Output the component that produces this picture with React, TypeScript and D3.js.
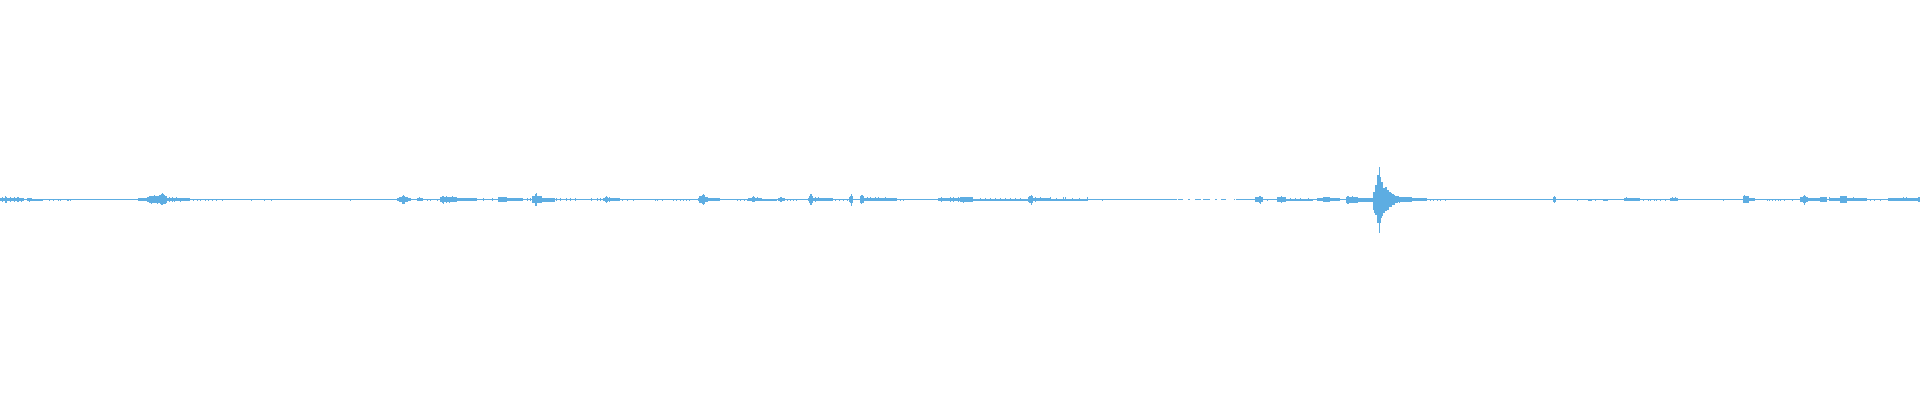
import React from "react";
import * as d3 from "d3";

const WIDTH = 1920;
const HEIGHT = 400;
const COLOR = "#5dade2";

// Columns (x in px of the 1920-wide waveform) where the signal is digital silence: nothing is drawn
const silentGaps: [number, number][] = [
  [1177, 1178], [1183, 1188], [1190, 1195], [1201, 1203], [1210, 1215],
  [1217, 1221], [1226, 1234], [1235, 1236],
];

// Low-level noise envelopes: [startX, endX (exclusive), up, down] in amplitude levels (full scale = 200)
const noiseSpans: [number, number, number, number][] = [
  [0, 24, 1, 1], [27, 32, 1, 1], [32, 43, 0, 1],
  [138, 147, 1, 1], [147, 149, 2, 2], [149, 167, 3, 3], [167, 190, 1, 1],
  [397, 399, 1, 1], [399, 402, 2, 2], [402, 405, 3, 4], [405, 408, 2, 2], [408, 411, 1, 1],
  [417, 423, 1, 1], [440, 457, 2, 2], [457, 477, 1, 1], [498, 507, 2, 2], [507, 523, 1, 1],
  [532, 535, 3, 3], [535, 537, 5, 6], [537, 542, 3, 3], [542, 555, 1, 2],
  [603, 620, 1, 1],
  [698, 699, 1, 1], [699, 702, 3, 3], [702, 705, 4, 4], [705, 708, 2, 2], [708, 720, 1, 1],
  [748, 762, 1, 1], [762, 777, 0, 1], [778, 785, 1, 1],
  [808, 809, 1, 1], [809, 813, 3, 3], [813, 833, 1, 1],
  [849, 853, 2, 2], [860, 864, 3, 3], [864, 897, 1, 1], [938, 960, 1, 1],
  [960, 973, 2, 2], [973, 1028, 0, 1], [1028, 1029, 2, 2], [1029, 1033, 3, 3], [1033, 1050, 1, 1], [1050, 1088, 0, 1],
  [1255, 1263, 2, 2], [1277, 1286, 2, 2], [1286, 1313, 0, 1],
  [1317, 1323, 1, 1], [1323, 1330, 2, 2], [1330, 1340, 1, 1],
  [1346, 1358, 2, 3], [1358, 1373, 1, 2],
  [1400, 1412, 2, 2], [1412, 1427, 1, 1],
  [1553, 1556, 2, 2], [1588, 1592, 0, 1],
  [1603, 1608, 0, 1], [1624, 1640, 1, 1], [1670, 1678, 1, 1],
  [1743, 1749, 3, 3], [1749, 1755, 1, 1],
  [1800, 1803, 2, 2], [1803, 1806, 3, 3], [1806, 1808, 2, 2], [1808, 1820, 1, 1],
  [1820, 1827, 2, 2], [1830, 1840, 1, 1], [1840, 1847, 3, 3], [1847, 1867, 1, 1],
  [1888, 1900, 1, 1], [1900, 1918, 1, 1], [1918, 1920, 2, 2],
];

// Individual peak columns: [x, up, down]
const peakColumns: [number, number, number][] = [
  [2, 2, 2], [5, 3, 3], [6, 2, 3], [10, 2, 2], [14, 2, 2], [17, 2, 2], [18, 2, 2], [21, 1, 2], [29, 1, 2],
  [49, 0, 1], [53, 0, 1], [58, 0, 1], [60, 0, 1], [67, 0, 1], [68, 0, 1], [70, 0, 1],
  [151, 3, 4], [154, 4, 3], [157, 3, 4], [159, 4, 3], [160, 4, 4], [161, 5, 5], [162, 6, 5], [163, 5, 4],
  [164, 4, 4], [165, 3, 4], [169, 2, 2], [172, 2, 2], [174, 1, 2], [176, 2, 1], [180, 1, 2],
  [193, 0, 1], [197, 0, 1], [200, 0, 1], [205, 0, 1], [208, 0, 1], [212, 0, 1], [216, 0, 1], [222, 0, 1],
  [251, 0, 1], [264, 0, 1], [271, 0, 1], [350, 0, 1],
  [403, 4, 4], [419, 2, 1], [427, 0, 1], [430, 0, 1], [437, 0, 1],
  [442, 3, 3], [443, 3, 4], [446, 3, 3], [449, 2, 3], [452, 3, 2], [483, 1, 1], [492, 1, 1],
  [527, 1, 1], [530, 1, 1], [536, 6, 6],
  [556, 1, 1], [560, 1, 1], [566, 1, 1], [570, 1, 1], [575, 1, 1], [591, 1, 1], [597, 1, 1], [600, 1, 1],
  [605, 2, 2], [606, 3, 3], [607, 2, 2], [609, 2, 2], [622, 0, 1], [627, 0, 1], [633, 0, 1],
  [655, 0, 1], [657, 0, 1], [662, 0, 1], [673, 0, 1], [676, 0, 1], [680, 0, 1], [683, 0, 1], [686, 0, 1], [689, 0, 1],
  [703, 5, 5], [737, 0, 1], [740, 0, 1], [744, 0, 1], [747, 0, 1],
  [752, 2, 2], [753, 3, 2], [754, 2, 2], [757, 2, 1], [780, 2, 2], [781, 2, 2],
  [787, 0, 1], [790, 0, 1], [793, 0, 1], [796, 0, 1],
  [810, 5, 5], [811, 5, 5], [815, 2, 2], [818, 2, 1],
  [835, 0, 1], [839, 0, 1], [843, 0, 1], [847, 0, 1],
  [850, 3, 3], [851, 5, 6], [852, 3, 3], [861, 4, 4], [862, 4, 3],
  [867, 2, 1], [870, 2, 1], [875, 2, 1], [878, 2, 1], [885, 2, 1], [900, 0, 1], [903, 0, 1],
  [941, 2, 2], [950, 2, 2], [953, 2, 2], [958, 2, 2], [963, 2, 3],
  [980, 1, 1], [985, 1, 1], [990, 1, 1], [995, 1, 1], [1000, 1, 1], [1005, 1, 1], [1010, 1, 1], [1015, 1, 1], [1020, 1, 1],
  [1031, 4, 5], [1035, 2, 2], [1040, 2, 1], [1050, 2, 1], [1056, 1, 1], [1063, 2, 1], [1065, 2, 1],
  [1072, 1, 1], [1079, 1, 1], [1087, 2, 1], [1102, 0, 1],
  [1259, 3, 3], [1260, 3, 4], [1267, 0, 1], [1281, 3, 3],
  [1290, 1, 1], [1295, 1, 1], [1300, 1, 1], [1308, 1, 1],
  [1347, 3, 4], [1348, 3, 4], [1352, 3, 3],
  [1430, 0, 1], [1433, 0, 1], [1437, 0, 1], [1440, 0, 1], [1445, 0, 1],
  [1554, 3, 3], [1577, 0, 1], [1595, 0, 1],
  [1626, 2, 1], [1643, 0, 1], [1648, 0, 1], [1650, 0, 1], [1654, 0, 1], [1656, 0, 1], [1660, 0, 1], [1665, 0, 1],
  [1672, 2, 1], [1675, 2, 1], [1723, 0, 1], [1744, 4, 3],
  [1767, 0, 1], [1769, 0, 1], [1772, 0, 1], [1775, 0, 1], [1778, 0, 1], [1780, 0, 1], [1784, 0, 1], [1792, 0, 1],
  [1804, 4, 5], [1829, 2, 1], [1853, 2, 1], [1870, 0, 1], [1874, 0, 1], [1880, 0, 1],
  [1903, 2, 1], [1906, 2, 1],
];

// The loud event around x = 1373..1399
const mainBurstStart = 1373;
const mainBurstUp = [7, 7, 14, 14, 24, 24, 32, 22, 17, 17, 11, 11, 12, 12, 9, 9, 7, 7, 6, 5, 5, 4, 3, 3, 3, 3, 2];
const mainBurstDown = [10, 13, 15, 15, 23, 23, 33, 23, 18, 16, 13, 13, 11, 11, 10, 10, 7, 7, 7, 5, 5, 5, 3, 3, 3, 2, 3];

export default function App() {
  const x = d3.scaleLinear().domain([0, WIDTH]).range([0, WIDTH]);
  const y = d3.scaleLinear().domain([-200, 200]).range([HEIGHT - 0.5, -0.5]);

  const up = new Array(WIDTH).fill(0);
  const down = new Array(WIDTH).fill(0);
  noiseSpans.forEach(([s, e, u, d]) => {
    for (let i = s; i < e && i < WIDTH; i++) {
      up[i] = Math.max(up[i], u);
      down[i] = Math.max(down[i], d);
    }
  });
  peakColumns.forEach(([c, u, d]) => {
    up[c] = Math.max(up[c], u);
    down[c] = Math.max(down[c], d);
  });
  mainBurstUp.forEach((u, i) => {
    const c = mainBurstStart + i;
    up[c] = Math.max(up[c], u);
    down[c] = Math.max(down[c], mainBurstDown[i]);
  });
  const silent = new Array(WIDTH).fill(false);
  silentGaps.forEach(([s, e]) => {
    for (let i = s; i < e; i++) silent[i] = true;
  });

  const cols = d3.range(0, WIDTH).filter((c) => !silent[c]);

  return (
    <svg
      width={WIDTH}
      height={HEIGHT}
      style={{ position: "absolute", left: 0, top: 0, background: "#ffffff" }}
      shapeRendering="crispEdges"
    >
      <g fill={COLOR}>
        {cols.map((c) => {
          const top = y(up[c]) - 0.5;
          const bottom = y(-down[c]) + 0.5;
          return <rect key={c} x={x(c)} y={top} width={x(c + 1) - x(c)} height={bottom - top} />;
        })}
      </g>
    </svg>
  );
}
